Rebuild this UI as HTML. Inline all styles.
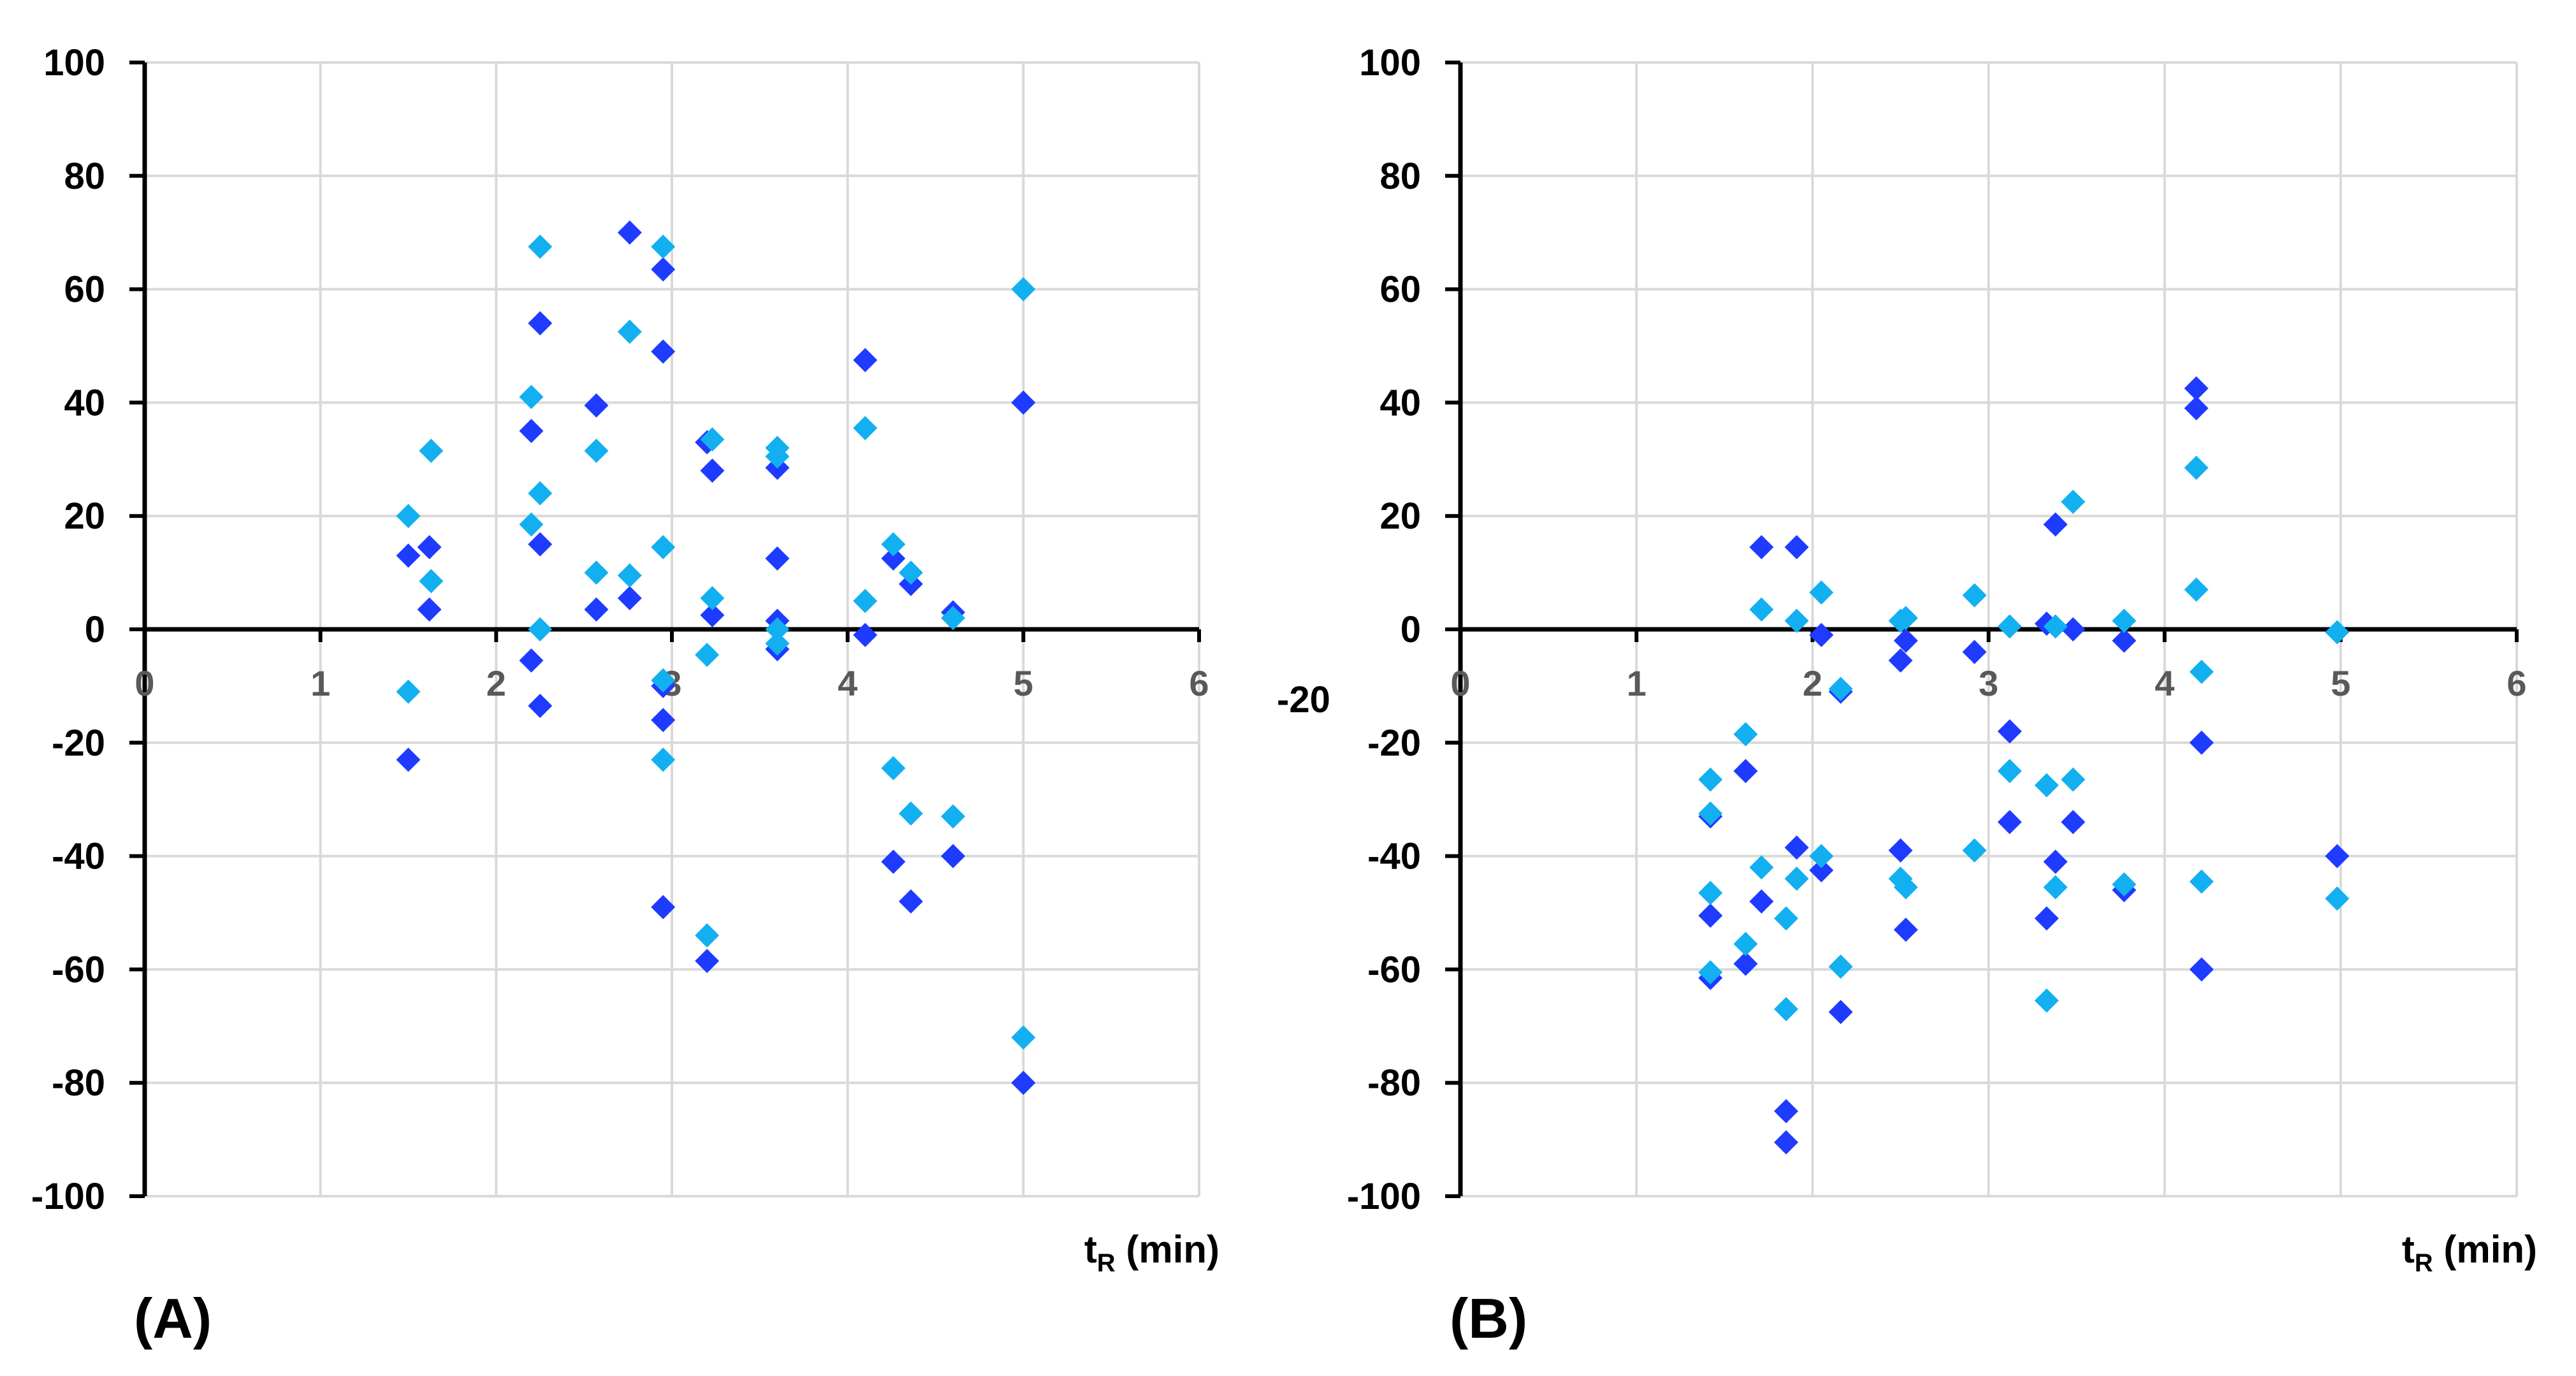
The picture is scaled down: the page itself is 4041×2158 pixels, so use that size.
<!DOCTYPE html>
<html><head><meta charset="utf-8"><style>
html,body{margin:0;padding:0;background:#fff;}
svg{display:block;font-family:"Liberation Sans",sans-serif;}
</style></head><body>
<svg id="chart" width="4041" height="2158" viewBox="0 0 4041 2158" xmlns="http://www.w3.org/2000/svg">
<rect width="4041" height="2158" fill="#fff"/>
<text x="2003" y="1117" font-size="58" font-weight="bold" fill="#000">-20</text>
</svg>
<script>
const xTicks=[0,1,2,3,4,5,6];
const yTicks=[100,80,60,40,20,0,-20,-40,-60,-80,-100];
const aDarkX=[1.5,1.5,1.62,1.62,2.2,2.2,2.25,2.25,2.25,2.57,2.57,2.76,2.76,2.95,2.95,2.95,2.95,2.95,3.2,3.2,3.23,3.23,3.6,3.6,3.6,3.6,4.1,4.1,4.26,4.26,4.36,4.36,4.6,4.6,5.0,5.0];
const aDarkY=[13,-23,14.5,3.5,35,-5.5,54,15,-13.5,39.5,3.5,70,5.5,63.5,49,-10,-16,-49,33,-58.5,28,2.5,28.5,12.5,1.5,-3.5,47.5,-1,12.5,-41,8,-48,3,-40,40,-80];
const aLightX=[1.5,1.5,1.63,1.63,2.2,2.2,2.25,2.25,2.25,2.57,2.57,2.76,2.76,2.95,2.95,2.95,2.95,3.2,3.2,3.23,3.23,3.6,3.6,3.6,3.6,4.1,4.1,4.26,4.26,4.36,4.36,4.6,4.6,5.0,5.0];
const aLightY=[20,-11,31.5,8.5,41,18.5,67.5,24,0,31.5,10,52.5,9.5,67.5,14.5,-9,-23,-4.5,-54,33.5,5.5,32,30.5,0,-2.5,35.5,5,15,-24.5,10,-32.5,2,-33,60,-72];
const bDarkX=[1.42,1.42,1.42,1.62,1.62,1.71,1.71,1.91,1.91,1.85,1.85,2.05,2.05,2.16,2.16,2.5,2.5,2.53,2.53,2.92,3.12,3.12,3.33,3.33,3.38,3.38,3.48,3.48,3.77,3.77,4.18,4.18,4.21,4.21,4.98];
const bDarkY=[-33,-50.5,-61.5,-25,-59,14.5,-48,14.5,-38.5,-85,-90.5,-1,-42.5,-11,-67.5,-5.5,-39,-2,-53,-4,-18,-34,1,-51,18.5,-41,0,-34,-2,-46,42.5,39,-20,-60,-40];
const bLightX=[1.42,1.42,1.42,1.42,1.62,1.62,1.71,1.71,1.91,1.91,1.85,1.85,2.05,2.05,2.16,2.16,2.5,2.5,2.53,2.53,2.92,2.92,3.12,3.12,3.33,3.33,3.38,3.38,3.48,3.48,3.77,3.77,4.18,4.18,4.21,4.21,4.98,4.98];
const bLightY=[-26.5,-32.5,-46.5,-60.5,-18.5,-55.5,3.5,-42,1.5,-44,-51,-67,6.5,-40,-10.5,-59.5,1.5,-44,2,-45.5,6,-39,0.5,-25,-27.5,-65.5,0.5,-45.5,22.5,-26.5,1.5,-45,28.5,7,-7.5,-44.5,-0.5,-47.5];

const svg=document.getElementById('chart');
const NS='http://www.w3.org/2000/svg';
function mk(tag,attrs,parent){const e=document.createElementNS(NS,tag);for(const k in attrs)e.setAttribute(k,attrs[k]);(parent||svg).appendChild(e);return e;}

function panel(id,x0,x6,letter,darkX,darkY,lightX,lightY){
  const yTop=98,yBot=1876;
  const sx=v=>x0+(x6-x0)*v/6;
  const sy=v=>yBot-(yBot-yTop)*(v+100)/200;
  const g=mk('g',{});
  
  
  xTicks.forEach(t=>{
    if(t===0)return;
    const l=mk('line',{x1:sx(t),x2:sx(t),y1:yTop,y2:yBot,stroke:'#d9d9d9','stroke-width':4},g);
    
    
  });
  yTicks.forEach(t=>{
    const l=mk('line',{x1:x0,x2:x6,y1:sy(t),y2:sy(t),stroke:'#d9d9d9','stroke-width':4},g);
    
    
    const tk=mk('line',{x1:x0-24,x2:x0,y1:sy(t),y2:sy(t),stroke:'#000','stroke-width':6},g);
    
    
    const tx=mk('text',{x:x0-62,y:sy(t)+20,'font-size':58,'font-weight':'bold','text-anchor':'end',fill:'#000'},g);
    tx.textContent=t;
    
    
  });
  const ya=mk('line',{x1:x0,x2:x0,y1:yTop,y2:yBot,stroke:'#000','stroke-width':7},g);
  
  
  const xa=mk('line',{x1:x0,x2:x6,y1:sy(0),y2:sy(0),stroke:'#000','stroke-width':7},g);
  
  
  xTicks.forEach(t=>{
    const tk=mk('line',{x1:sx(t),x2:sx(t),y1:sy(0),y2:sy(0)+20,stroke:'#000','stroke-width':6},g);
    
    
    const tx=mk('text',{x:sx(t),y:sy(0)+104,'font-size':56,'font-weight':'bold','text-anchor':'middle',fill:'#595959'},g);
    tx.textContent=t;
    
    
  });
  const d=19;
  function series(xs,ys,color,name){
    xs.forEach((xv,i)=>{
      const cx=sx(xv),cy=sy(ys[i]);
      const p=mk('polygon',{points:`${cx},${cy-d} ${cx+d},${cy} ${cx},${cy+d} ${cx-d},${cy}`,fill:color},g);
      
      
    });
  }
  series(darkX,darkY,'#1E3BFF','point-dark');
  series(lightX,lightY,'#12B0F0','point-light');
  const xt=mk('text',{x:x6+32,y:1980,'font-size':60,'font-weight':'bold','text-anchor':'end',fill:'#000'},g);
  xt.innerHTML='t<tspan font-size="40" dy="14">R</tspan><tspan dy="-14"> (min)</tspan>';
  
  
  const pl=mk('text',{x:x0-17,y:2098,'font-size':88,'font-weight':'bold',fill:'#000'},g);
  pl.textContent='('+letter+')';
  
  
}
panel('a',227,1881,'A',aDarkX,aDarkY,aLightX,aLightY);
panel('b',2291,3948,'B',bDarkX,bDarkY,bLightX,bLightY);
</script>
</body></html>
